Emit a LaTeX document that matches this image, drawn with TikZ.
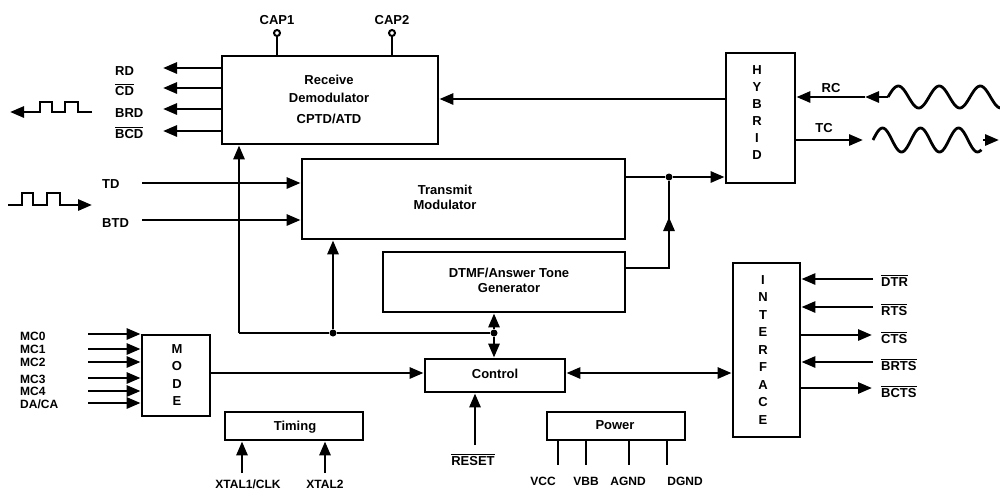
\documentclass[tikz,border=0pt]{standalone}
\usepackage{fontspec}
\setmainfont{Liberation Sans}
\usetikzlibrary{arrows.meta}
\newcommand\lbl{\bfseries\fontsize{13}{15}\selectfont}
\newcommand\smlbl{\bfseries\fontsize{12}{14}\selectfont}
\newcommand\ovl[1]{$\overline{\mbox{#1}}$}
\tikzset{
  box/.style={draw, line width=2.8pt, inner sep=0pt},
  wire/.style={line width=2.8pt},
  tip/.tip={Triangle[length=14pt,width=11pt]},
  arr/.style={wire, -tip},
  dblarr/.style={wire, tip-tip},
  lab/.style={font=\lbl, inner sep=0pt},
  slab/.style={font=\smlbl, inner sep=0pt},
  dot/.style={circle, fill, inner sep=0pt, minimum size=7pt},
  pin/.style={circle, draw, line width=2pt, inner sep=0pt, minimum size=6pt},
}
\begin{document}
\begin{tikzpicture}[x=1pt,y=-1pt]
\useasboundingbox (0,0) rectangle (1000,491);

% ---- boxes
\node[box, minimum width=216pt, minimum height=88pt] (rx) at (330,100) {};
\node[box, minimum width=323pt, minimum height=80pt] (tx) at (463.5,199) {};
\node[box, minimum width=242pt, minimum height=60pt] (dtmf) at (504,282) {};
\node[box, minimum width=140pt, minimum height=33pt] (ctl) at (495,375.5) {};
\node[box, minimum width=68pt, minimum height=81pt] (mode) at (176,375.5) {};
\node[box, minimum width=138pt, minimum height=28pt] (timing) at (294,426) {};
\node[box, minimum width=138pt, minimum height=28pt] (power) at (616,426) {};
\node[box, minimum width=69pt, minimum height=130pt] (hyb) at (760.5,118) {};
\node[box, minimum width=67pt, minimum height=174pt] (itf) at (766.5,350) {};

% ---- box texts
\node[lab] (rxt1) at (329,80) {Receive};
\node[lab] (rxt2) at (329,98) {Demodulator};
\node[lab] (rxt3) at (329,119) {CPTD/ATD};
\node[lab] (txt1) at (445,190) {Transmit};
\node[lab] (txt2) at (445,205) {Modulator};
\node[lab] (dt1) at (509,273) {DTMF/Answer Tone};
\node[lab] (dt2) at (509,288) {Generator};
\node[lab] (ctlt) at (495,374) {Control};
\node[lab] (timt) at (295,427) {Timing};
\node[lab] (powt) at (615,425) {Power};
\node[lab, align=center, font=\lbl\fontsize{13}{17}\selectfont] (hybt) at (757,113) {H\\Y\\B\\R\\I\\D};
\node[lab, align=center, font=\lbl\fontsize{13}{17.5}\selectfont] (itft) at (763,350) {I\\N\\T\\E\\R\\F\\A\\C\\E};
\node[lab, align=center, font=\lbl\fontsize{13}{17.3}\selectfont] (modet) at (177,375) {M\\O\\D\\E};

% ---- CAP pins
\node[pin] (cap1) at (277,33) {};
\node[pin] (cap2) at (392,33) {};
\draw[wire] (cap1.south) -- (cap1.south |- rx.north);
\draw[wire] (cap2.south) -- (cap2.south |- rx.north);
\node[lab] (cap1t) at (277,20) {CAP1};
\node[lab] (cap2t) at (392,20) {CAP2};

% ---- receive outputs
\coordinate (o1) at (163,68);
\coordinate (o2) at (163,88);
\coordinate (o3) at (163,109);
\coordinate (o4) at (163,131);
\draw[arr] (rx.west |- o1) -- (o1);
\draw[arr] (rx.west |- o2) -- (o2);
\draw[arr] (rx.west |- o3) -- (o3);
\draw[arr] (rx.west |- o4) -- (o4);
\node[lab, anchor=base west] (rdt) at (115,75) {RD};
\node[lab, anchor=base west] (cdt) at (115,95) {\ovl{CD}};
\node[lab, anchor=base west] (brdt) at (115,117) {BRD};
\node[lab, anchor=base west] (bcdt) at (115,138) {\ovl{BCD}};

% ---- square waves
\coordinate (sqL) at (10,112);
\draw[wire] (92,112) -- (78,112) -- (78,102) -- (65,102) -- (65,112) -- (52,112) -- (52,102) -- (40,102) -- (40,112) -- (28,112);
\draw[arr] (30,112) -- (sqL);
\coordinate (sqR) at (92,205);
\draw[wire] (8,205) -- (22,205) -- (22,193) -- (33,193) -- (33,205) -- (47,205) -- (47,193) -- (60,193) -- (60,205) -- (72,205);
\draw[arr] (70,205) -- (sqR);

% ---- transmit inputs
\coordinate (tdin) at (142,183);
\coordinate (btdin) at (142,220);
\draw[arr] (tdin) -- (tdin -| tx.west);
\draw[arr] (btdin) -- (btdin -| tx.west);
\node[lab, anchor=base west] (tdt) at (102,188) {TD};
\node[lab, anchor=base west] (btdt) at (102,227) {BTD};

% ---- hybrid connections
\coordinate (hin) at (726,99);
\draw[arr] (hyb.west |- hin) -- (hin -| rx.east);
\node[dot] (j1) at (669,177) {};
\draw[wire] (tx.east |- j1) -- (j1);
\draw[arr] (j1) -- (j1 -| hyb.west);
\coordinate (dtr) at (669,268);
\draw[wire] (dtr -| dtmf.east) -- (dtr) -- (j1);
\draw[arr] (dtr) -- (669,217);

% ---- RC / TC lines
\coordinate (rcw) at (888,97);
\coordinate (rca) at (865,97);
\draw[wire] plot[domain=0:2.75, samples=90] ({888+41*\x},{97-11*sin(360*\x)});
\draw[arr] (rcw) -- (rca);
\draw[arr] (rca) -- (rca -| hyb.east);
\node[lab] (rct) at (831,88) {RC};
\coordinate (tca) at (863,140);
\draw[arr] (tca -| hyb.east) -- (tca);
\draw[wire] plot[domain=0:2.85, samples=90] ({873+38*\x},{140-12*sin(360*\x)});
\coordinate (tce) at (999,140);
\draw[arr] (983,140) -- (tce);
\node[lab] (tct) at (824,128) {TC};

% ---- bus
\coordinate (bl) at (239,333);
\node[dot] (j2) at (333,333) {};
\node[dot] (j3) at (494,333) {};
\draw[arr] (bl) -- (bl |- rx.south);
\draw[wire] (bl) -- (j2) -- (j3);
\draw[arr] (j2) -- (j2 |- tx.south);
\draw[arr] (j3) -- (j3 |- dtmf.south);
\draw[arr] (j3) -- (j3 |- ctl.north);

% ---- mode
\coordinate (mo) at (210,373);
\draw[arr] (mo) -- (mo -| ctl.west);
\foreach \yy/\nm in {334/m0,349/m1,362/m2,378/m3,391/m4,403/m5}{
  \coordinate (\nm) at (88,\yy);
  \draw[arr] (\nm) -- (\nm -| mode.west);
}
\node[slab, anchor=base west] (mc0) at (20,340) {MC0};
\node[slab, anchor=base west] (mc1) at (20,353) {MC1};
\node[slab, anchor=base west] (mc2) at (20,366) {MC2};
\node[slab, anchor=base west] (mc3) at (20,383) {MC3};
\node[slab, anchor=base west] (mc4) at (20,395) {MC4};
\node[slab, anchor=base west] (dact) at (20,408) {DA/CA};

% ---- control / interface
\coordinate (ci) at (565,373);
\draw[dblarr] (ci -| ctl.east) -- (ci -| itf.west);

% ---- reset
\coordinate (rs) at (475,445);
\draw[arr] (rs) -- (rs |- ctl.south);
\node[lab, anchor=base] (rst) at (473,465) {\ovl{RESET}};

% ---- timing
\coordinate (x1) at (242,473);
\coordinate (x2) at (325,473);
\draw[arr] (x1) -- (x1 |- timing.south);
\draw[arr] (x2) -- (x2 |- timing.south);
\node[slab, anchor=base] (x1t) at (248,488) {XTAL1/CLK};
\node[slab, anchor=base] (x2t) at (325,488) {XTAL2};

% ---- power
\foreach \xx/\nm in {558/p1,586/p2,629/p3,667/p4}{
  \coordinate (\nm) at (\xx,465);
  \draw[wire] (\nm |- power.south) -- (\nm);
}
\node[slab, anchor=base] (vcct) at (543,485) {VCC};
\node[slab, anchor=base] (vbbt) at (586,485) {VBB};
\node[slab, anchor=base] (agndt) at (628,485) {AGND};
\node[slab, anchor=base] (dgndt) at (685,485) {DGND};

% ---- interface signals
\coordinate (s1) at (873,279);
\coordinate (s2) at (873,307);
\coordinate (s3) at (872,335);
\coordinate (s4) at (873,362);
\coordinate (s5) at (872,388);
\draw[arr] (s1) -- (s1 -| itf.east);
\draw[arr] (s2) -- (s2 -| itf.east);
\draw[arr] (s3 -| itf.east) -- (s3);
\draw[arr] (s4) -- (s4 -| itf.east);
\draw[arr] (s5 -| itf.east) -- (s5);
\node[lab, anchor=base west] (dtrt) at (881,286) {\ovl{DTR}};
\node[lab, anchor=base west] (rtst) at (881,315) {\ovl{RTS}};
\node[lab, anchor=base west] (ctst) at (881,343) {\ovl{CTS}};
\node[lab, anchor=base west] (brtst) at (881,370) {\ovl{BRTS}};
\node[lab, anchor=base west] (bctst) at (881,397) {\ovl{BCTS}};
\end{tikzpicture}
\end{document}
